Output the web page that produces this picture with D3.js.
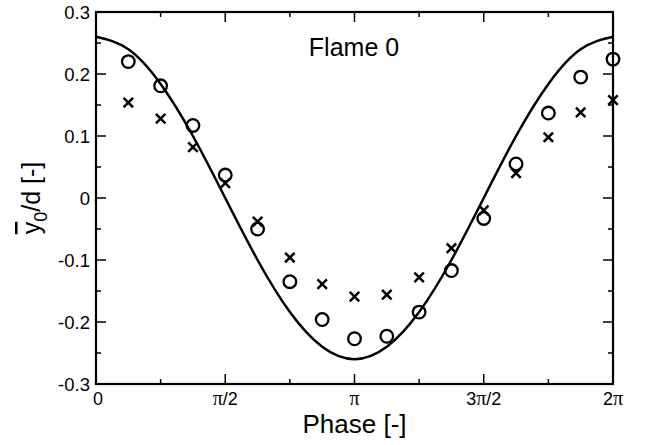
<!DOCTYPE html>
<html>
<head>
<meta charset="utf-8">
<script src="https://cdn.jsdelivr.net/npm/d3@7"></script>
<style>
  body { margin: 0; background: #fff; }
  text { font-family: "Liberation Sans", Arial, sans-serif; fill: #000; }
</style>
</head>
<body>
<svg id="chart" width="650" height="445"></svg>
<script>
const PI = Math.PI;

// phase positions of the measured points (multiples of pi/8)
const phaseSteps = [1, 2, 3, 4, 5, 6, 7, 8, 9, 10, 11, 12, 13, 14, 15, 16];
const circleVals = [0.220, 0.181, 0.117, 0.037, -0.050, -0.135, -0.196, -0.227,
                    -0.223, -0.184, -0.117, -0.033, 0.055, 0.137, 0.195, 0.224];
const crossVals = [0.154, 0.128, 0.082, 0.024, -0.038, -0.096, -0.139, -0.159,
                   -0.156, -0.128, -0.081, -0.020, 0.040, 0.098, 0.138, 0.158];

// model curve read at pi/8 steps
const curveSteps = [0, 1, 2, 3, 4, 5, 6, 7, 8, 9, 10, 11, 12, 13, 14, 15, 16];
const curveVals = [0.260, 0.240, 0.184, 0.100, 0.000, -0.100, -0.184, -0.240, -0.260,
                   -0.240, -0.184, -0.100, 0.000, 0.100, 0.184, 0.240, 0.260];

const yTicks = [-0.3, -0.2, -0.1, 0, 0.1, 0.2, 0.3];
const yMinor = [-0.25, -0.15, -0.05, 0.05, 0.15, 0.25];
const xTickSteps = [0, 4, 8, 12, 16];
const xTickLabels = [["0", ""], ["π", "/2"], ["π", ""], ["3π", "/2"], ["2π", ""]];
const xMinorSteps = [2, 6, 10, 14];

const svg = d3.select("#chart");
const LEFT = 96, RIGHT = 613, TOP = 12, BOTTOM = 384;

const x = d3.scaleLinear().domain([0, 2 * PI]).range([LEFT, RIGHT]);
const y = d3.scaleLinear().domain([-0.3, 0.3]).range([BOTTOM, TOP]);
const ph = s => s * PI / 8;

// frame
svg.append("rect")
   .attr("x", LEFT).attr("y", TOP)
   .attr("width", RIGHT - LEFT).attr("height", BOTTOM - TOP)
   .attr("fill", "none").attr("stroke", "#000").attr("stroke-width", 2.2);

// inward ticks on all four sides
const tickG = svg.append("g").attr("stroke", "#000").attr("stroke-width", 1.5);
function yTick(v, len) {
    tickG.append("line").attr("x1", LEFT).attr("x2", LEFT + len).attr("y1", y(v)).attr("y2", y(v));
    tickG.append("line").attr("x1", RIGHT).attr("x2", RIGHT - len).attr("y1", y(v)).attr("y2", y(v));
}
function xTick(s, len) {
    tickG.append("line").attr("x1", x(ph(s))).attr("x2", x(ph(s))).attr("y1", BOTTOM).attr("y2", BOTTOM - len);
    tickG.append("line").attr("x1", x(ph(s))).attr("x2", x(ph(s))).attr("y1", TOP).attr("y2", TOP + len);
}
yTicks.forEach(v => yTick(v, 10));
yMinor.forEach(v => yTick(v, 5));
xTickSteps.forEach(s => xTick(s, 10));
xMinorSteps.forEach(s => xTick(s, 5));

// y tick labels
svg.append("g").selectAll("text")
   .data(yTicks)
   .enter()
   .append("text")
   .attr("x", LEFT - 6)
   .attr("y", d => y(d) + 7)
   .attr("text-anchor", "end")
   .style("font-size", "18.5px")
   .text(d => d === 0 ? "0" : d3.format(".1f")(d).replace("−", "-"));

// x tick labels
const xl = svg.append("g").selectAll("text")
   .data(xTickSteps)
   .enter()
   .append("text")
   .attr("x", (d, i) => x(ph(d)) + (i === 0 ? 2 : 0))
   .attr("y", BOTTOM + 21)
   .attr("text-anchor", "middle")
   .style("font-size", "18px");
xl.each(function(d, i) {
    const t = d3.select(this);
    const lab = xTickLabels[i];
    const m = lab[0].match(/^(\d*)(π?)$/);
    if (m[1]) t.append("tspan").text(m[1]);
    if (m[2]) t.append("tspan").style("font-family", "'Liberation Serif', 'Times New Roman', serif").style("font-size", "20px").text(m[2]);
    if (lab[1]) t.append("tspan").text(lab[1]);
});

// axis titles
svg.append("text")
   .attr("x", (LEFT + RIGHT) / 2)
   .attr("y", 433)
   .attr("text-anchor", "middle")
   .style("font-size", "26px")
   .text("Phase [-]");

const yl = svg.append("text")
   .attr("transform", `translate(40, ${y(0)}) rotate(-90)`)
   .attr("text-anchor", "middle")
   .style("font-size", "25px");
yl.append("tspan").style("text-decoration", "overline").text("y");
yl.append("tspan").attr("dy", 7).style("font-size", "18px").text("0");
yl.append("tspan").attr("dy", -7).text("/d [-]");

svg.append("text")
   .attr("x", 354)
   .attr("y", 56)
   .attr("text-anchor", "middle")
   .style("font-size", "25px")
   .text("Flame 0");

// model curve
const curveData = curveSteps.map((s, i) => [ph(s), curveVals[i]]);
svg.append("path")
   .datum(curveData)
   .attr("fill", "none")
   .attr("stroke", "#000")
   .attr("stroke-width", 2.5)
   .attr("d", d3.line().x(d => x(d[0])).y(d => y(d[1])).curve(d3.curveNatural));

// circle markers
svg.append("g").selectAll("circle")
   .data(phaseSteps.map((s, i) => [ph(s), circleVals[i]]))
   .enter()
   .append("circle")
   .attr("cx", d => x(d[0]))
   .attr("cy", d => y(d[1]))
   .attr("r", 6.3)
   .attr("fill", "none")
   .attr("stroke", "#000")
   .attr("stroke-width", 2.3);

// cross markers
const crossSym = d3.symbol().type(d3.symbolX).size(60);
svg.append("g").selectAll("path")
   .data(phaseSteps.map((s, i) => [ph(s), crossVals[i]]))
   .enter()
   .append("path")
   .attr("transform", d => `translate(${x(d[0])}, ${y(d[1])})`)
   .attr("d", crossSym)
   .attr("fill", "none")
   .attr("stroke", "#000")
   .attr("stroke-width", 2.5);
</script>
</body>
</html>
